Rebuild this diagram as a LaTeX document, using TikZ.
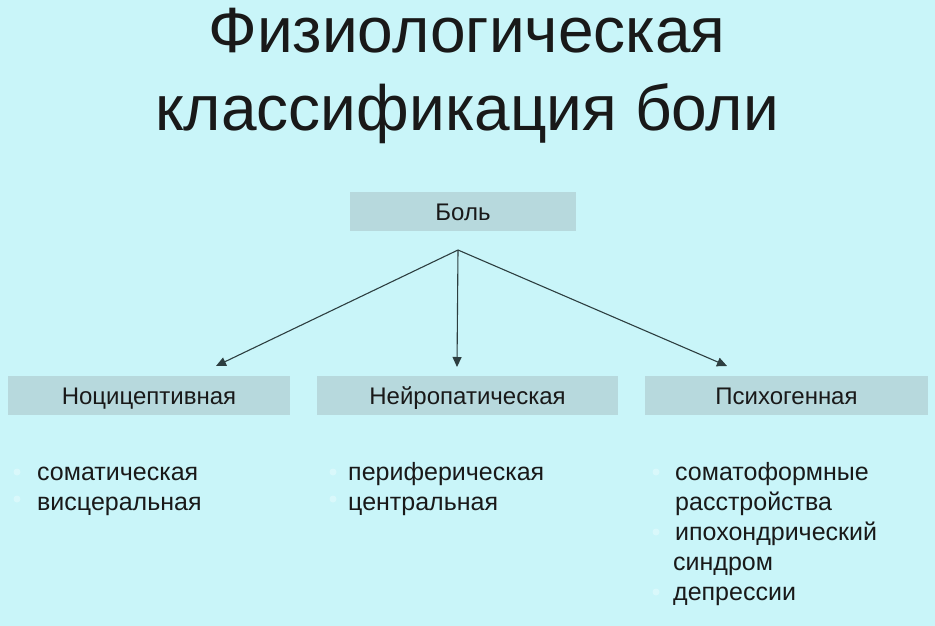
\documentclass[tikz,border=0pt]{standalone}
\usepackage{fontspec}
\setmainfont{Liberation Sans}
\usetikzlibrary{arrows.meta}
\definecolor{slidebg}{RGB}{201,245,249}
\definecolor{boxfill}{RGB}{183,217,221}
\definecolor{dotfill}{RGB}{217,248,251}
\definecolor{linecol}{RGB}{45,62,64}
\begin{document}
\begin{tikzpicture}[x=1pt, y=-1pt,
    classbox/.style={fill=boxfill, minimum height=39pt, inner sep=0pt, text=black!90,
      text height=17pt, text depth=0pt, font=\fontsize{24}{28}\selectfont},
    item/.style={anchor=base west, inner sep=0pt, text=black!90,
      font=\fontsize{25}{30}\selectfont},
    heading/.style={anchor=base, text=black!90, font=\fontsize{64}{73}\selectfont},
    branch/.style={-{Triangle[length=10pt, width=9pt]}, line width=1.1pt, draw=linecol}]
  \fill[slidebg] (0,0) rectangle (935,626);
  \useasboundingbox (0,0) rectangle (935,626);

  % title
  \node[heading] (title1) at (467,53) {Физиологическая};
  \node[heading] (title2) at (467,130) {классификация боли};

  % boxes
  \node[classbox, minimum width=226pt] (pain) at (463,211.5) {Боль};
  \node[classbox, minimum width=282pt] (noci) at (149,395.5) {Ноцицептивная};
  \node[classbox, minimum width=301pt] (neuro) at (467.5,395.5) {Нейропатическая};
  \node[classbox, minimum width=283pt] (psycho) at (786.5,395.5) {Психогенная};

  % arrows
  \coordinate (split) at (458,250);
  \coordinate (tipL) at (216,366);
  \coordinate (tipM) at (457,367);
  \coordinate (tipR) at (727,366);
  \draw[branch] (split) -- (tipL);
  \draw[branch] (split) -- (tipM);
  \draw[branch] (split) -- (tipR);

  % nociceptive
  \fill[dotfill] (17,472) circle (3.5);
  \fill[dotfill] (17,499) circle (3.5);
  \node[item] (soma) at (37,480) {соматическая};
  \node[item] (visc) at (37,510) {висцеральная};

  % neuropathic
  \fill[dotfill] (333,472) circle (3.5);
  \fill[dotfill] (333,499) circle (3.5);
  \node[item] (peri) at (348,480) {периферическая};
  \node[item] (centr) at (348,510) {центральная};

  % psychogenic
  \fill[dotfill] (656,472) circle (3.5);
  \fill[dotfill] (656,532) circle (3.5);
  \fill[dotfill] (656,592) circle (3.5);
  \node[item] (somf) at (675,480) {соматоформные};
  \node[item] (somf2) at (675,510) {расстройства};
  \node[item] (hypo) at (675,540) {ипохондрический};
  \node[item] (hypo2) at (673,570) {синдром};
  \node[item] (depr) at (673,600) {депрессии};
\end{tikzpicture}
\end{document}
